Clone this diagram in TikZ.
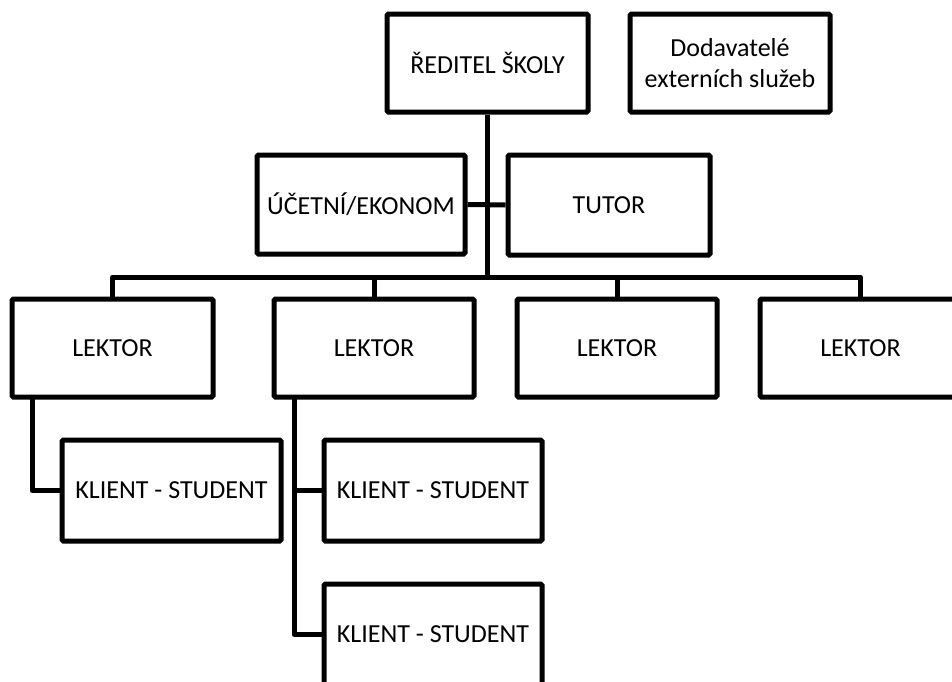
\documentclass[tikz,border=0pt]{standalone}
\usepackage{fontspec}
\setmainfont{Carlito}
\begin{document}
\begin{tikzpicture}[x=1pt,y=-1pt,
  box/.style={draw=black,line width=5pt,rounded corners=1.5pt,fill=white,
    inner sep=0pt,align=center,font=\fontsize{26}{31}\selectfont},
  conn/.style={draw=black,line width=5pt,line join=round}]
\useasboundingbox (0,0) rectangle (952,681);
\clip (0,0) rectangle (952,681);
% boxes
\node[box,minimum width=201pt,minimum height=98pt] (dir) at (487.5,63) {ŘEDITEL ŠKOLY};
\node[box,minimum width=200pt,minimum height=98pt] (ext) at (730,63) {Dodavatelé\\externích služeb};
\node[box,minimum width=208pt,minimum height=99pt] (acc) at (361,204.5) {ÚČETNÍ/EKONOM};
\node[box,minimum width=202pt,minimum height=100pt] (tut) at (609,205) {TUTOR};
\node[box,minimum width=201pt,minimum height=98pt] (l1) at (112.5,348) {LEKTOR};
\node[box,minimum width=200pt,minimum height=98pt] (l2) at (374,348) {LEKTOR};
\node[box,minimum width=200pt,minimum height=98pt] (l3) at (617,348) {LEKTOR};
\node[box,minimum width=201pt,minimum height=98pt] (l4) at (860.5,348) {LEKTOR};
\node[box,minimum width=219pt,minimum height=101pt] (k1) at (171.5,490.5) {KLIENT - STUDENT};
\node[box,minimum width=218pt,minimum height=101pt] (k2) at (433,490.5) {KLIENT - STUDENT};
\node[box,minimum width=218pt,minimum height=101pt] (k3) at (433,634.5) {KLIENT - STUDENT};
% connectors
\coordinate (bar) at (487.5,277);
\coordinate (t1) at (32,397);
\coordinate (t2) at (294,397);
\draw[conn] (dir.south) -- (bar);
\draw[conn] (acc.east) -- (tut.west);
\draw[conn] (l1.north) |- (bar) -| (l4.north);
\draw[conn] (l2.north) -- (l2.north |- bar);
\draw[conn] (l3.north) -- (l3.north |- bar);
\draw[conn] (t1) |- (k1.west);
\draw[conn] (t2) |- (k3.west);
\draw[conn] (t2 |- k2.west) -- (k2.west);
\end{tikzpicture}
\end{document}
